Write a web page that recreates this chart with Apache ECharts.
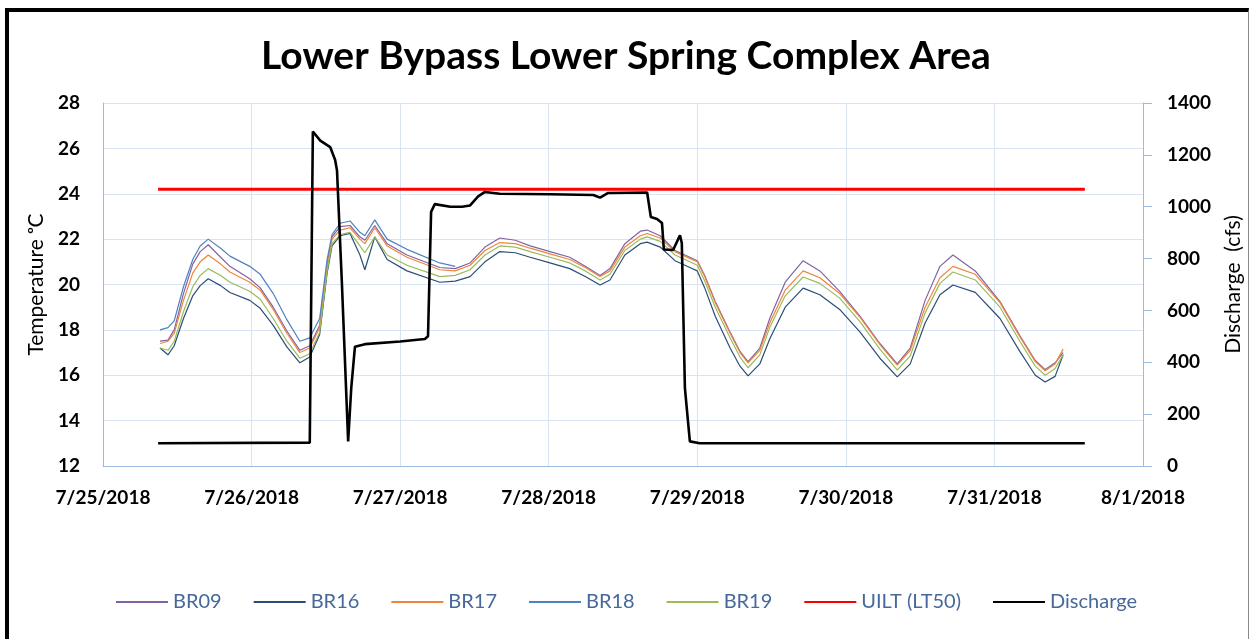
<!DOCTYPE html>
<html>
<head>
<meta charset="utf-8">
<script src="https://cdn.jsdelivr.net/npm/echarts@6.0.0/dist/echarts.min.js"></script>
<style>
  html, body { margin: 0; padding: 0; background: #fff; }
  #frame { position: absolute; left: 5px; top: 8px; width: 1239px; height: 700px;
           border-left: 4px solid #000; border-top: 4px solid #000; border-right: 1px solid #8a8a8a; }
  #chart { position: absolute; left: 0; top: 0; width: 1252px; height: 639px; }
</style>
</head>
<body>
<div id="frame"></div>
<div id="chart"></div>
<script>
// hours since 7/25/2018 00:00
const hours = [9.2, 10.5, 11.5, 13, 14.5, 15.7, 17, 19, 20.5, 23.7,
  25.4, 27.5, 29.7, 31.8, 33.4, 35, 36.2, 37, 38.3, 39.9,
  41.5, 42.3, 43.9, 45.9, 49.1, 54.4, 56.9, 59.3, 61.7, 64.1,
  66.6, 69, 72.2, 75.4, 77.9, 80.3, 81.9, 84.3, 86.8, 87.9,
  90, 92.4, 94.8, 96, 97.2, 98.9, 101.3, 102.9, 104.2, 106.1,
  107.7, 110.2, 113.1, 115.8, 119, 122.3, 125.5, 128.3, 130.4, 132.8,
  135.2, 137.3, 140.9, 144.9, 148.1, 150.6, 152.2, 153.8, 155.1]

const br09 = [17.5, 17.55, 18.0, 19.6, 20.9, 21.45, 21.75, 21.2, 20.8, 20.25,
  19.85, 19.0, 17.95, 17.1, 17.3, 18.2, 20.9, 22.1, 22.55, 22.6,
  22.1, 21.95, 22.6, 21.8, 21.3, 20.75, 20.7, 20.95, 21.65, 22.05,
  21.95, 21.7, 21.45, 21.2, 20.8, 20.4, 20.7, 21.8, 22.35, 22.4,
  22.15, 21.5, 21.2, 21.05, 20.4, 19.25, 17.9, 17.05, 16.6, 17.2,
  18.5, 20.1, 21.05, 20.6, 19.7, 18.6, 17.4, 16.5, 17.2, 19.3,
  20.8, 21.3, 20.6, 19.25, 17.75, 16.65, 16.25, 16.55, 17.0]

const br16 = [17.2, 16.9, 17.3, 18.5, 19.5, 19.95, 20.25, 19.95, 19.65, 19.3,
  18.95, 18.2, 17.25, 16.55, 16.8, 17.8, 20.5, 21.7, 22.15, 22.25,
  21.3, 20.65, 22.1, 21.1, 20.6, 20.1, 20.15, 20.35, 21.0, 21.45,
  21.4, 21.2, 20.95, 20.7, 20.35, 19.98, 20.2, 21.3, 21.8, 21.87,
  21.65, 21.05, 20.75, 20.6, 19.85, 18.6, 17.2, 16.4, 15.97, 16.5,
  17.6, 19.0, 19.84, 19.55, 18.9, 17.9, 16.75, 15.93, 16.5, 18.3,
  19.55, 19.98, 19.65, 18.5, 17.05, 16.0, 15.7, 15.95, 16.9]

const br17 = [17.4, 17.5, 17.85, 19.3, 20.5, 21.0, 21.3, 20.9, 20.55, 20.1,
  19.75, 18.9, 17.85, 17.0, 17.2, 18.1, 20.8, 22.0, 22.4, 22.5,
  22.0, 21.8, 22.5, 21.7, 21.2, 20.65, 20.6, 20.85, 21.5, 21.85,
  21.8, 21.6, 21.35, 21.1, 20.75, 20.35, 20.6, 21.65, 22.15, 22.25,
  22.05, 21.45, 21.15, 21.0, 20.35, 19.2, 17.85, 17.0, 16.55, 17.1,
  18.3, 19.75, 20.6, 20.3, 19.6, 18.55, 17.35, 16.45, 17.1, 19.0,
  20.3, 20.8, 20.45, 19.2, 17.7, 16.6, 16.2, 16.5, 17.15]

// BR18 stops logging on 7/27
const br18 = [18.0, 18.1, 18.4, 19.9, 21.1, 21.7, 22.0, 21.6, 21.25, 20.8,
  20.45, 19.6, 18.45, 17.5, 17.65, 18.5, 21.1, 22.2, 22.7, 22.8,
  22.3, 22.15, 22.85, 22.0, 21.55, 20.95, 20.8]

const br19 = [17.2, 17.1, 17.5, 18.8, 19.9, 20.4, 20.7, 20.4, 20.1, 19.7,
  19.35, 18.5, 17.5, 16.75, 16.95, 17.9, 20.6, 21.8, 22.2, 22.3,
  21.7, 21.4, 22.1, 21.3, 20.85, 20.35, 20.4, 20.65, 21.3, 21.7,
  21.65, 21.45, 21.2, 20.95, 20.6, 20.2, 20.45, 21.5, 22.0, 22.1,
  21.9, 21.3, 21.0, 20.85, 20.15, 19.0, 17.65, 16.8, 16.33, 16.9,
  18.1, 19.5, 20.33, 20.05, 19.4, 18.35, 17.15, 16.23, 16.85, 18.75,
  20.05, 20.55, 20.2, 19.0, 17.5, 16.4, 16.0, 16.3, 16.9]

const uiltHours = [8.9, 158.6]
const uilt = [24.2, 24.2]

const qHours = [8.9, 33.4, 33.9, 35.1, 36.7, 37.5, 37.8, 38.6, 39.6, 40.1,
  40.7, 42.3, 48, 52, 52.5, 53.0, 53.6, 56.1, 58.0, 59.3,
  60.6, 61.7, 64.1, 72.2, 79.2, 80.3, 81.6, 87.9, 88.5, 89.5,
  90.3, 90.6, 92.1, 93.2, 93.5, 94.0, 94.8, 96.4, 158.6]
const discharge = [88, 90, 1290, 1255, 1230, 1180, 1140, 700, 95, 300,
  460, 470, 480, 490, 500, 980, 1010, 1000, 1000, 1005,
  1040, 1057, 1050, 1048, 1045, 1035, 1053, 1055, 960, 953,
  937, 835, 833, 890, 860, 300, 95, 88, 88]

const dateLabels = ['7/25/2018', '7/26/2018', '7/27/2018', '7/28/2018',
  '7/29/2018', '7/30/2018', '7/31/2018', '8/1/2018']

const start = Date.UTC(2018, 6, 25)
const DAY = 86400000
const pts = (hs, vs) => vs.map((v, i) => [start + hs[i] * 3600000, v])

const font = 'Lato, "Open Sans", sans-serif'
const gridColor = '#d9e4f3'
const axisColor = '#9cbbe3'

const chart = echarts.init(document.getElementById('chart'))

function tempLine (name, vals, color) {
  return {
    name: name,
    type: 'line',
    yAxisIndex: 0,
    data: pts(hours, vals),
    showSymbol: false,
    symbol: 'none',
    silent: true,
    lineStyle: { color: color, width: 1.2 },
    itemStyle: { color: color }
  }
}

const option = {
  animation: false,
  title: {
    text: 'Lower Bypass Lower Spring Complex Area',
    left: 'center',
    top: 32,
    textStyle: { fontFamily: font, fontSize: 39, fontWeight: 'bold', color: '#000' }
  },
  legend: {
    bottom: 22,
    left: 'center',
    itemWidth: 52,
    itemHeight: 10,
    itemGap: 31,
    itemStyle: { opacity: 0 },
    textStyle: { fontFamily: font, fontSize: 20, color: '#46689a' },
    data: ['BR09', 'BR16', 'BR17', 'BR18', 'BR19', 'UILT (LT50)', 'Discharge']
  },
  grid: { left: 103, right: 109, top: 103, bottom: 173 },
  xAxis: {
    type: 'value',
    min: start,
    max: start + 7 * DAY,
    interval: DAY,
    axisLine: { show: true, lineStyle: { color: axisColor } },
    axisTick: { show: false },
    splitLine: { show: true, lineStyle: { color: gridColor } },
    axisLabel: {
      margin: 22,
      fontFamily: font,
      fontSize: 19,
      fontWeight: 'bold',
      color: '#000',
      formatter: (v) => dateLabels[Math.round((v - start) / DAY)]
    }
  },
  yAxis: [{
    type: 'value',
    min: 12,
    max: 28,
    interval: 2,
    name: 'Temperature \u1D52C',
    nameLocation: 'middle',
    nameRotate: 90,
    nameGap: 56,
    nameTextStyle: { fontFamily: font, fontSize: 21, color: '#000' },
    axisLine: { show: true, lineStyle: { color: axisColor } },
    axisTick: { show: false },
    splitLine: { show: true, lineStyle: { color: gridColor } },
    axisLabel: { margin: 23, fontFamily: font, fontSize: 19, fontWeight: 'bold', color: '#000' }
  }, {
    type: 'value',
    min: 0,
    max: 1400,
    interval: 200,
    position: 'right',
    name: 'Discharge  (cfs)',
    nameLocation: 'middle',
    nameRotate: 90,
    nameGap: 80,
    nameTextStyle: { fontFamily: font, fontSize: 21, color: '#000' },
    axisLine: { show: true, lineStyle: { color: axisColor } },
    axisTick: { show: true, length: 9, lineStyle: { color: axisColor } },
    splitLine: { show: false },
    axisLabel: {
      margin: 24,
      fontFamily: font,
      fontSize: 19,
      fontWeight: 'bold',
      color: '#000',
      formatter: (v) => String(v)
    }
  }],
  series: [
    tempLine('BR09', br09, '#8064a2'),
    tempLine('BR16', br16, '#2c4d75'),
    tempLine('BR17', br17, '#f0843c'),
    tempLine('BR18', br18, '#4f81bd'),
    tempLine('BR19', br19, '#9bbb59'),
    {
      name: 'UILT (LT50)',
      type: 'line',
      yAxisIndex: 0,
      data: pts(uiltHours, uilt),
      showSymbol: false,
      symbol: 'none',
      lineStyle: { color: '#ff0000', width: 3 },
      itemStyle: { color: '#ff0000' }
    },
    {
      name: 'Discharge',
      type: 'line',
      yAxisIndex: 1,
      data: pts(qHours, discharge),
      showSymbol: false,
      symbol: 'none',
      lineStyle: { color: '#000', width: 2.6 },
      itemStyle: { color: '#000' }
    }
  ]
}

chart.setOption(option)
</script>
</body>
</html>
